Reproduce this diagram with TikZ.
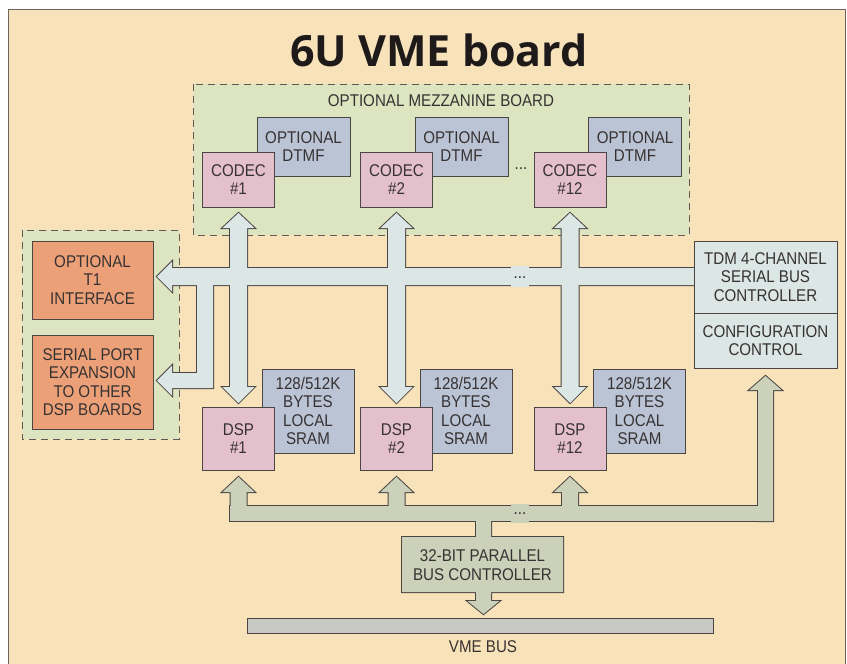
\documentclass[tikz,border=0pt]{standalone}
\usepackage{fontspec}
\setmainfont{Liberation Sans}[FakeStretch=0.89]
\newfontfamily\titlefont{Open Sans}
\definecolor{bgc}{RGB}{248,226,186}
\definecolor{framec}{RGB}{110,100,95}
\definecolor{greenc}{RGB}{221,228,192}
\definecolor{pinkc}{RGB}{228,192,204}
\definecolor{bluec}{RGB}{187,196,213}
\definecolor{orangec}{RGB}{236,160,120}
\definecolor{serialc}{RGB}{219,230,229}
\definecolor{parc}{RGB}{204,209,186}
\definecolor{vmec}{RGB}{200,200,196}
\definecolor{ln}{RGB}{75,70,68}
\definecolor{dashc}{RGB}{95,90,85}
\definecolor{tx}{RGB}{55,50,50}
\definecolor{titlec}{RGB}{30,26,26}
\begin{document}
\begin{tikzpicture}[x=1pt,y=-1pt,
  every node/.style={inner sep=0pt, outer sep=0pt},
  lbl/.style={font=\fontsize{17}{18.5}\selectfont, text=tx, align=center},
  box/.style={lbl, draw=ln, line width=0.9pt},
  codecbox/.style={box, fill=pinkc, minimum width=72, minimum height=55},
  dtmfbox/.style={box, fill=bluec, minimum width=93, minimum height=59},
  dspbox/.style={box, fill=pinkc, minimum width=72, minimum height=63},
  srambox/.style={box, fill=bluec, minimum width=92, minimum height=84},
  orangebox/.style={box, fill=orangec, minimum width=121},
  tdmbox/.style={box, fill=serialc, minimum width=143},
  dashedbox/.style={draw=dashc, line width=0.9pt, dash pattern=on 7pt off 5pt, fill=greenc},
  busline/.style={draw=ln, line width=2pt, line join=miter},
  dots/.style={font=\fontsize{17}{18}\selectfont, text=tx, anchor=base}
]
\useasboundingbox (0,0) rectangle (847,664);
\fill[white] (0,0) rectangle (847,664);
\draw[fill=bgc, draw=framec, line width=1pt] (8,9) rectangle (845.5,672);

% title
\node[anchor=base, text=titlec, font=\titlefont\bfseries\fontsize{43}{50}\selectfont] (title) at (439,66) {6U VME board};

% dashed boxes
\draw[dashedbox] (193,84) rectangle (689,235);
\node[lbl] (mezz) at (441,101) {OPTIONAL MEZZANINE BOARD};
\draw[dashedbox] (22,230) rectangle (179,439);

% mezzanine contents
\node[dtmfbox] (dtmf1) at (303.5,146.5) {OPTIONAL\\DTMF};
\node[dtmfbox] (dtmf2) at (461.5,146.5) {OPTIONAL\\DTMF};
\node[dtmfbox] (dtmf12) at (635,146.5) {OPTIONAL\\DTMF};
\node[codecbox] (codec1) at (238.5,179.5) {CODEC\\\#1};
\node[codecbox] (codec2) at (396.5,179.5) {CODEC\\\#2};
\node[codecbox] (codec12) at (570,179.5) {CODEC\\\#12};
\node[dots] (mdots) at (521,169.5) {...};

% optional left boxes
\node[orangebox, minimum height=78] (t1) at (92.5,280) {OPTIONAL\\T1\\INTERFACE};
\node[orangebox, minimum height=94] (sport) at (92.5,382) {SERIAL PORT\\EXPANSION\\TO OTHER\\DSP BOARDS};

% DSP and SRAM
\node[srambox] (sram1) at (308,411) {128/512K\\BYTES\\LOCAL\\SRAM};
\node[srambox] (sram2) at (466,411) {128/512K\\BYTES\\LOCAL\\SRAM};
\node[srambox] (sram12) at (639.5,411) {128/512K\\BYTES\\LOCAL\\SRAM};
\node[dspbox] (dsp1) at (238.5,438.5) {DSP\\\#1};
\node[dspbox] (dsp2) at (396.5,438.5) {DSP\\\#2};
\node[dspbox] (dsp12) at (570,438.5) {DSP\\\#12};

% serial bus (union of shapes)
\path[save path=\serShA] (700,268) -- (172,268) -- (172,261.5) -- (157,276.5) -- (172,291.5) -- (172,285) -- (700,285) -- cycle;
\path[save path=\serShB] (197,280) -- (197,373) -- (172,373) -- (172,365.5) -- (157,380.5) -- (172,395.5) -- (172,388) -- (213,388) -- (213,280) -- cycle;
\path[save path=\serShC] (230,228) -- (222.5,228) -- (238.5,213) -- (254.5,228) -- (247,228) -- (247,387) -- (254.5,387) -- (238.5,403) -- (222.5,387) -- (230,387) -- cycle;
\path[save path=\serShD] (388,228) -- (380.5,228) -- (396.5,213) -- (412.5,228) -- (405,228) -- (405,387) -- (412.5,387) -- (396.5,403) -- (380.5,387) -- (388,387) -- cycle;
\path[save path=\serShE] (561.5,228) -- (554,228) -- (570,213) -- (586,228) -- (578.5,228) -- (578.5,387) -- (586,387) -- (570,403) -- (554,387) -- (561.5,387) -- cycle;
\foreach \sh in {\serShA,\serShB,\serShC,\serShD,\serShE} {\draw[busline, use path=\sh];}
\foreach \sh in {\serShA,\serShB,\serShC,\serShD,\serShE} {\fill[serialc, use path=\sh];}
\fill[serialc] (511,266) rectangle (529,287);
\node[dots] (sdots) at (520,278.5) {...};

% TDM controller
\node[tdmbox, minimum height=72] (tdm) at (765.5,277) {TDM 4-CHANNEL\\SERIAL BUS\\CONTROLLER};
\node[tdmbox, minimum height=55] (conf) at (765.5,340.5) {CONFIGURATION\\CONTROL};

% parallel bus (union of shapes)
\path[save path=\parShA] (230,506) -- (773,506) -- (773,521) -- (230,521) -- cycle;
\path[save path=\parShB] (230.5,510) -- (230.5,492) -- (222.5,492) -- (238.5,477) -- (254.5,492) -- (246.5,492) -- (246.5,510) -- cycle;
\path[save path=\parShC] (388.5,510) -- (388.5,492) -- (380.5,492) -- (396.5,477) -- (412.5,492) -- (404.5,492) -- (404.5,510) -- cycle;
\path[save path=\parShD] (562,510) -- (562,492) -- (554,492) -- (570,477) -- (586,492) -- (578,492) -- (578,510) -- cycle;
\path[save path=\parShE] (758,515) -- (758,390) -- (749.5,390) -- (765.5,376) -- (781.5,390) -- (773,390) -- (773,521) -- (758,521) -- cycle;
\path[save path=\parShF] (476,515) -- (476,537) -- (402,537) -- (402,592) -- (476,592) -- (476,601) -- (467.5,601) -- (483.5,614) -- (499.5,601) -- (491,601) -- (491,592) -- (563,592) -- (563,537) -- (491,537) -- (491,515) -- cycle;
\foreach \sh in {\parShA,\parShB,\parShC,\parShD,\parShE,\parShF} {\draw[busline, use path=\sh];}
\foreach \sh in {\parShA,\parShB,\parShC,\parShD,\parShE,\parShF} {\fill[parc, use path=\sh];}
\fill[parc] (511,504) rectangle (529,523);
\node[dots] (pdots) at (520,514) {...};
\node[lbl] (pctrl) at (482.5,565) {32-BIT PARALLEL\\BUS CONTROLLER};

% VME bus
\node[draw=ln, fill=vmec, line width=0.9pt, minimum width=466, minimum height=15] (vme) at (480,625.5) {};
\node[lbl] (vmelbl) at (483,647) {VME BUS};
\end{tikzpicture}
\end{document}
